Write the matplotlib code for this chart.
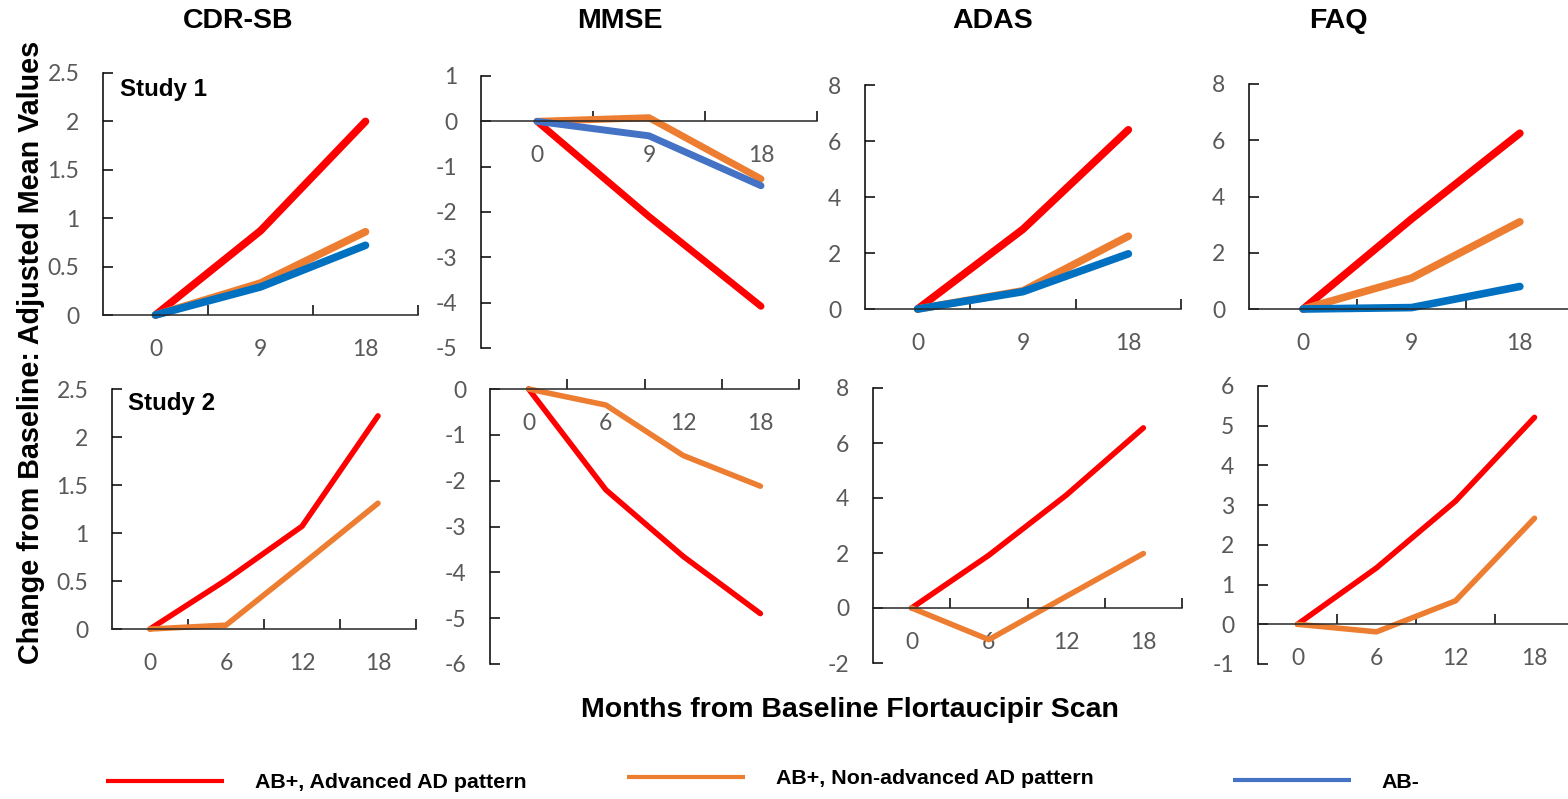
import matplotlib
matplotlib.use('Agg')
import matplotlib.pyplot as plt
from matplotlib.lines import Line2D
import numpy as np

# data
months_s1 = ['0', '9', '18']
months_s2 = ['0', '6', '12', '18']

s1_cdr_adv = [0, 0.87, 2.0]
s1_cdr_non = [0, 0.33, 0.86]
s1_cdr_neg = [0, 0.29, 0.72]

s1_mmse_adv = [0, -2.1, -4.08]
s1_mmse_non = [0, 0.08, -1.27]
s1_mmse_neg = [0, -0.32, -1.42]

s1_adas_adv = [0, 2.85, 6.4]
s1_adas_non = [0, 0.65, 2.6]
s1_adas_neg = [0, 0.62, 1.97]

s1_faq_adv = [0, 3.2, 6.25]
s1_faq_non = [0, 1.1, 3.1]
s1_faq_neg = [0, 0.05, 0.8]

s2_cdr_adv = [0, 0.51, 1.07, 2.22]
s2_cdr_non = [0, 0.04, 0.67, 1.31]

s2_mmse_adv = [0, -2.2, -3.65, -4.9]
s2_mmse_non = [0, -0.35, -1.45, -2.12]

s2_adas_adv = [0, 1.92, 4.1, 6.55]
s2_adas_non = [0, -1.15, 0.42, 1.98]

s2_faq_adv = [0, 1.42, 3.1, 5.21]
s2_faq_non = [0, -0.19, 0.59, 2.67]

titles = ['CDR-SB', 'MMSE', 'ADAS', 'FAQ']
legend_labels = ['AB+, Advanced AD pattern', 'AB+, Non-advanced AD pattern', 'AB-']

RED = '#FF0000'
ORANGE = '#ED7D31'
BLUE = '#0070C0'
BLUE2 = '#4472C4'
GREY = '#595959'

W, H = 1568, 799
fig = plt.figure(figsize=(W / 100, H / 100), dpi=100)


def px_axes(x0, x1, ytop, ybot):
    # pixel box -> figure fraction
    return fig.add_axes([x0 / W, 1 - ybot / H, (x1 - x0) / W, (ybot - ytop) / H])


def panel(box, cats, series, ylim, ystep, lw):
    ax = px_axes(*box)
    x = np.arange(len(cats))
    for vals, col in series:
        ax.plot(x, vals, color=col, lw=lw, solid_capstyle='round',
                solid_joinstyle='round', clip_on=False)
    ax.set_xlim(-0.5, len(cats) - 0.5)
    ax.set_ylim(*ylim)
    yt = np.arange(ylim[0], ylim[1] + ystep / 2, ystep)
    ax.set_yticks(yt)
    ax.set_yticklabels([f'{v:g}' for v in yt])
    ax.set_xticks(x)
    ax.set_xticklabels(cats)
    ax.set_xticks(np.arange(0.5, len(cats), 1), minor=True)
    ax.spines['top'].set_visible(False)
    ax.spines['right'].set_visible(False)
    ax.spines['bottom'].set_position(('data', 0))
    ax.spines['bottom'].set_color('#262626')
    for s in ['left', 'bottom']:
        ax.spines[s].set_linewidth(1.1)
    ax.tick_params(axis='x', which='major', length=0, pad=17, labelsize=16.5,
                   labelcolor=GREY)
    ax.tick_params(axis='x', which='minor', direction='in', length=7, width=1.1)
    ax.tick_params(axis='y', direction='in', length=7, width=1.1, pad=17,
                   labelsize=16.5, labelcolor=GREY)
    for lab in ax.get_xticklabels() + ax.get_yticklabels():
        lab.set_family('Lato')
    ax.patch.set_alpha(0)
    return ax


# Study 1 (top row)
a = panel((103, 418, 73, 315), months_s1,
          [(s1_cdr_adv, RED), (s1_cdr_non, ORANGE), (s1_cdr_neg, BLUE)],
          (0, 2.5), 0.5, 5.5)
a.text(0.053, 0.93, 'Study 1', transform=a.transAxes, fontsize=17.4,
       fontweight='bold', family='Liberation Sans', va='center')
panel((481, 817, 76, 348), months_s1,
      [(s1_mmse_adv, RED), (s1_mmse_non, ORANGE), (s1_mmse_neg, BLUE2)],
      (-5, 1), 1, 5)
panel((865, 1181, 85, 309), months_s1,
      [(s1_adas_adv, RED), (s1_adas_non, ORANGE), (s1_adas_neg, BLUE)],
      (0, 8), 2, 5.5)
panel((1249, 1574, 84, 309), months_s1,
      [(s1_faq_adv, RED), (s1_faq_non, ORANGE), (s1_faq_neg, BLUE)],
      (0, 8), 2, 5.5)

# Study 2 (bottom row)
b = panel((112, 416, 389, 629), months_s2,
          [(s2_cdr_adv, RED), (s2_cdr_non, ORANGE)],
          (0, 2.5), 0.5, 4)
b.text(0.052, 0.94, 'Study 2', transform=b.transAxes, fontsize=17.4,
       fontweight='bold', family='Liberation Sans', va='center')
panel((490, 799, 389, 664), months_s2,
      [(s2_mmse_adv, RED), (s2_mmse_non, ORANGE)],
      (-6, 0), 1, 4)
panel((873, 1182, 388, 663), months_s2,
      [(s2_adas_adv, RED), (s2_adas_non, ORANGE)],
      (-2, 8), 2, 4)
panel((1258, 1574, 386, 664), months_s2,
      [(s2_faq_adv, RED), (s2_faq_non, ORANGE)],
      (-1, 6), 1, 4)

# column titles
for t, cx in zip(titles, [238, 620, 993, 1338]):
    fig.text(cx / W, 1 - 21 / H, t, ha='center', va='center', fontsize=20.5,
             fontweight='bold', family='Liberation Sans')

fig.text(31 / W, 1 - 352 / H, 'Change from Baseline: Adjusted Mean Values',
         rotation=90, ha='center', va='center', fontsize=20.7,
         fontweight='bold', family='Liberation Sans')
fig.text(850 / W, 1 - 710 / H, 'Months from Baseline Flortaucipir Scan',
         ha='center', va='center', fontsize=20.5, fontweight='bold',
         family='Liberation Sans')

# legend, one entry each, spread along the bottom
for lab, col, x0, y0 in zip(legend_labels, [RED, ORANGE, BLUE2],
                            [106, 627, 1233], [783, 779, 782]):
    h = Line2D([], [], color=col, lw=3, solid_capstyle='butt')
    fig.legend([h], [lab], loc='center left', bbox_to_anchor=(x0 / W, 1 - y0 / H),
               frameon=False, borderpad=0, borderaxespad=0, handlelength=5.5,
               handletextpad=1.45,
               prop={'family': 'Liberation Sans', 'weight': 'bold', 'size': 15.4})

fig.savefig('out.png', dpi=100)
